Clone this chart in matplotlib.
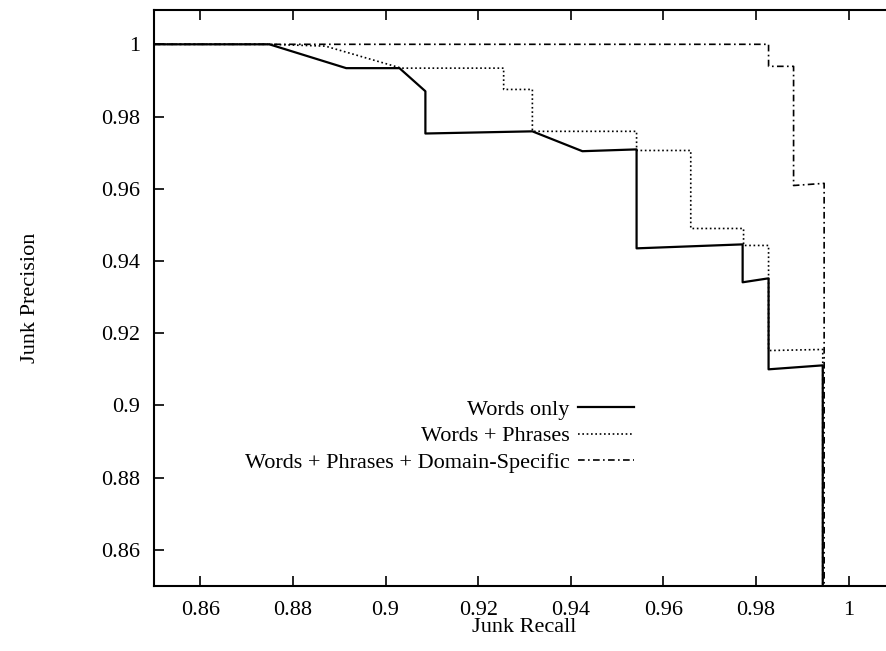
import matplotlib
matplotlib.use('Agg')
import matplotlib.pyplot as plt

plt.rcParams['font.family'] = ['Liberation Serif', 'DejaVu Serif']

# Words only (solid)
words_x = [0.85, 0.8749, 0.8915, 0.9030, 0.9086, 0.9086, 0.9317, 0.9425, 0.9542, 0.9542,
           0.9771, 0.9771, 0.9827, 0.9827, 0.9944, 0.9944]
words_y = [1.0, 1.0, 0.9934, 0.9934, 0.9870, 0.9753, 0.9759, 0.9704, 0.9709, 0.9435,
           0.9446, 0.9341, 0.9352, 0.9100, 0.9111, 0.84]

# Words + Phrases (dotted)
phr_x = [0.85, 0.8749, 0.8870, 0.9034, 0.9255, 0.9255, 0.9317, 0.9317, 0.9542, 0.9542,
         0.9659, 0.9659, 0.9773, 0.9773, 0.9827, 0.9827, 0.9944, 0.9944]
phr_y = [1.0, 1.0, 0.9995, 0.9934, 0.9934, 0.9875, 0.9875, 0.9759, 0.9759, 0.9706,
         0.9706, 0.9490, 0.9490, 0.9443, 0.9443, 0.9152, 0.9155, 0.84]

# Words + Phrases + Domain-Specific (dash-dot)
dom_x = [0.85, 0.9827, 0.9827, 0.9881, 0.9881, 0.9947, 0.9947]
dom_y = [1.0, 1.0, 0.9939, 0.9939, 0.9609, 0.9615, 0.84]

labels = ['Words only', 'Words + Phrases', 'Words + Phrases + Domain-Specific']
xticks = [0.86, 0.88, 0.9, 0.92, 0.94, 0.96, 0.98, 1.0]
xticklabels = ['0.86', '0.88', '0.9', '0.92', '0.94', '0.96', '0.98', '1']
yticks = [0.86, 0.88, 0.9, 0.92, 0.94, 0.96, 0.98, 1.0]
yticklabels = ['0.86', '0.88', '0.9', '0.92', '0.94', '0.96', '0.98', '1']

fig = plt.figure(figsize=(8.86, 6.51), dpi=100)
ax = fig.add_axes([154 / 886, 65 / 651, 741 / 886, 576 / 651])

ax.plot(words_x, words_y, color='black', lw=1.6, ls='-', label=labels[0])
ax.plot(phr_x, phr_y, color='black', lw=1.2, ls=(0, (1, 1.6)), label=labels[1])
ax.plot(dom_x, dom_y, color='black', lw=1.2, ls=(0, (4, 2, 1, 2)), label=labels[2])

ax.set_xlim(0.85, 1.01)
ax.set_ylim(0.85, 1.0095)
ax.set_xticks(xticks)
ax.set_xticklabels(xticklabels)
ax.set_yticks(yticks)
ax.set_yticklabels(yticklabels)
ax.tick_params(direction='in', top=True, right=False, length=7, width=1.2,
               labelsize=16)
ax.tick_params(axis='y', pad=10)
ax.tick_params(axis='x', pad=11)
for s in ax.spines.values():
    s.set_linewidth(1.5)

ax.set_xlabel('Junk Recall', fontsize=16, labelpad=-2)
ax.set_ylabel('Junk Precision', fontsize=16, labelpad=44)

leg = ax.legend(loc='upper right', bbox_to_anchor=(634 / 886, 1 - 399 / 651),
                bbox_transform=fig.transFigure, frameon=False, markerfirst=False,
                fontsize=16, handlelength=2.5, handletextpad=0.4, labelspacing=0.28,
                borderpad=0, borderaxespad=0)

fig.savefig('out.png', dpi=100)
